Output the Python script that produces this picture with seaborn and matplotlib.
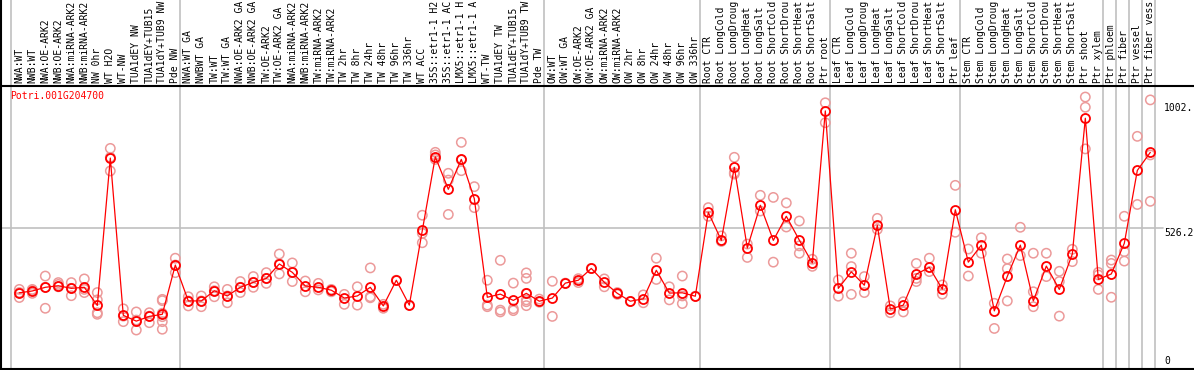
import numpy as np
import pandas as pd
import seaborn as sns
import matplotlib as mpl
import matplotlib.pyplot as plt
import matplotlib.transforms as mtransforms

sns.set_style("white")
plt.rcParams["font.family"] = ["DejaVu Sans Mono", "DejaVu Sans"]

gene = "Potri.001G204700"

samples = [
    "NWA:WT", "NWB:WT", "NWA:OE-ARK2", "NWB:OE-ARK2", "NWA:miRNA-ARK2",
    "NWB:miRNA-ARK2", "NW 0hr", "WT H2O", "WT-NW", "TUA1dEY NW",
    "TUA1dEY+TUB15", "TUA1dY+TUB9 NW", "Pde NW",
    "NWA:WT GA", "NWBWT GA", "TW:WT", "TW:WT GA", "NWA:OE-ARK2 GA",
    "NWB:OE-ARK2 GA", "TW:OE-ARK2", "TW:OE-ARK2 GA", "NWA:miRNA-ARK2",
    "NWB:miRNA-ARK2", "TW:miRNA-ARK2", "TW:miRNA-ARK2", "TW 2hr", "TW 8hr",
    "TW 24hr", "TW 48hr", "TW 96hr", "TW 336hr", "WT ACC", "35S::etr1-1 H2",
    "35S::etr1-1 AC", "LMX5::etr1-1 H", "LMX5::etr1-1 A", "WT-TW",
    "TUA1dEY TW", "TUA1dEY+TUB15", "TUA1dY+TUB9 TW", "Pde TW",
    "OW:WT", "OW:WT GA", "OW:OE-ARK2", "OW:OE-ARK2 GA", "OW:miRNA-ARK2",
    "OW:miRNA-ARK2", "OW 2hr", "OW 8hr", "OW 24hr", "OW 48hr", "OW 96hr",
    "OW 336hr",
    "Root CTR", "Root LongCold", "Root LongDroug", "Root LongHeat",
    "Root LongSalt", "Root ShortCold", "Root ShortDrou", "Root ShortHeat",
    "Root ShortSalt", "Ptr root",
    "Leaf CTR", "Leaf LongCold", "Leaf LongDroug", "Leaf LongHeat",
    "Leaf LongSalt", "Leaf ShortCold", "Leaf ShortDrou", "Leaf ShortHeat",
    "Leaf ShortSalt", "Ptr leaf",
    "Stem CTR", "Stem LongCold", "Stem LongDroug", "Stem LongHeat",
    "Stem LongSalt", "Stem ShortCold", "Stem ShortDrou", "Stem ShortHeat",
    "Stem ShortSalt", "Ptr shoot", "Ptr xylem",
    "Ptr phloem", "Ptr fiber", "Ptr vessel", "Ptr fiber vess",
]

group_sizes = [13, 28, 12, 10, 10, 11, 1, 1, 1, 1]

means = [
    280, 287, 301, 307, 297, 301, 232, 794, 194, 172, 190, 198, 386,
    249, 249, 288, 268, 301, 320, 335, 390, 358, 306, 301, 290, 260, 268,
    301, 230, 328, 233, 518, 799, 675, 789, 639, 263, 275, 251, 278, 248,
    260, 317, 328, 373, 320, 278, 248, 257, 366, 279, 280, 267,
    587, 480, 759, 451, 614, 480, 572, 481, 394, 974,
    297, 360, 309, 537, 218, 233, 351, 377, 294, 597,
    397, 462, 211, 343, 462, 249, 382, 293, 428, 946, 331,
    352, 469, 747, 816,
]

replicates = [
    [293, 262, 281], [293, 278, 289], [344, 301, 221], [319, 312, 303],
    [319, 297, 269], [333, 293, 281], [281, 253, 204, 198], [831, 797, 745],
    [219, 191, 170], [207, 176, 138], [204, 191, 166],
    [255, 250, 202, 189, 170, 141], [412, 386, 357],
    [265, 249, 230], [268, 249, 227], [303, 288, 265], [293, 268, 242],
    [323, 301, 281], [342, 320, 301], [357, 335, 316], [428, 390, 352],
    [394, 358, 323], [325, 284], [316, 291], [293, 284], [274, 236],
    [303, 233], [375, 265, 261], [236, 221], [328], [233],
    [576, 507, 471], [816, 806, 789], [736, 710, 579], [854, 787, 746],
    [685, 605], [328, 233, 227], [404, 214, 207], [317, 219, 212],
    [356, 335, 278, 253, 246, 231], [256, 244],
    [324, 190], [317], [334, 319], [373], [333, 303], [281, 274], [247],
    [272, 242], [412, 331], [303, 253], [344, 268, 239], [267],
    [605, 572], [497, 476], [797, 738, 733], [466, 415], [652, 592],
    [644, 397], [623, 531], [554, 459, 431], [408, 381], [1005, 929],
    [329, 267], [431, 380, 274], [342, 281], [564, 522], [230, 204],
    [246, 207], [392, 335, 323], [412, 361], [310, 275], [690, 511],
    [447, 344], [490, 431], [240, 144], [409, 372, 249], [530, 422],
    [431, 284, 227], [431, 342], [362, 323, 191], [446, 399],
    [1027, 988, 829], [358, 348, 293], [405, 392, 263], [572, 437, 401],
    [877, 617], [1016, 806, 629],
]

ytick_values = [0, 526.2, 1002.5]
ytick_labels = ["0", "526.2", "1002."]

idx = np.arange(len(samples))
rep_df = pd.DataFrame(
    [(i, v) for i, reps in enumerate(replicates) for v in reps],
    columns=["sample", "value"],
)
mean_df = pd.DataFrame({"sample": idx, "value": means})

fig = plt.figure(figsize=(11.94, 3.70), dpi=100)
ax = fig.add_axes([1 / 1194, 1 / 370, 1193 / 1194, 283.3 / 370])

ext = 369 / 283.3  # axes fraction reaching figure top
grid_c = "#c0c0c0"
fs = 7.0

# group separators
starts = np.cumsum([0] + group_sizes)
for s in starts:
    ax.axvline(s - 0.64, ymin=0, ymax=ext, color=grid_c, lw=1.2,
               clip_on=False, zorder=1)
ax.axvline(-1.408, ymin=0, ymax=ext, color="black", lw=1.5, clip_on=False,
           zorder=5)
ax.axhline(526.2, xmax=0.974, color=grid_c, lw=1.2, zorder=1)

sns.scatterplot(
    data=rep_df, x="sample", y="value", ax=ax, marker="o", s=45,
    facecolor="none", edgecolor="#ec9a9a", linewidth=1.1, zorder=2,
    legend=False,
)
sns.lineplot(
    data=mean_df, x="sample", y="value", ax=ax, color="#ff0000", lw=0.9,
    marker="o", markersize=6.5, markerfacecolor="none",
    markeredgecolor="#ff0000", markeredgewidth=1.3, zorder=3,
)

ax.set_xlim(-1.408, 90.36)
ax.set_ylim(-10.7, 1070.2)
ax.set_xticks([])
ax.set_yticks([])
ax.set_xlabel("")
ax.set_ylabel("")
for side in ["top", "bottom"]:
    ax.spines[side].set_color("black")
    ax.spines[side].set_linewidth(1.5)
ax.spines["right"].set_visible(False)
ax.spines["left"].set_visible(False)

# sample labels above the plot
trans = mtransforms.blended_transform_factory(ax.transData, ax.transAxes)
for i, name in enumerate(samples):
    ax.text(i, 1.008, name, transform=trans, rotation=90, ha="center",
            va="bottom", fontsize=fs, color="black", clip_on=False)

# value labels on the right
ytrans = mtransforms.blended_transform_factory(ax.transAxes, ax.transData)
for v, lab in zip(ytick_values, ytick_labels):
    ax.text(0.975, v, lab, transform=ytrans, ha="left",
            va="bottom" if v == 0 else "top", fontsize=fs, color="black")

ax.text(0.0075, 0.962, gene, transform=ax.transAxes, ha="left",
        va="center", fontsize=fs, color="#ff0000")

fig.savefig("out.png", dpi=100)
